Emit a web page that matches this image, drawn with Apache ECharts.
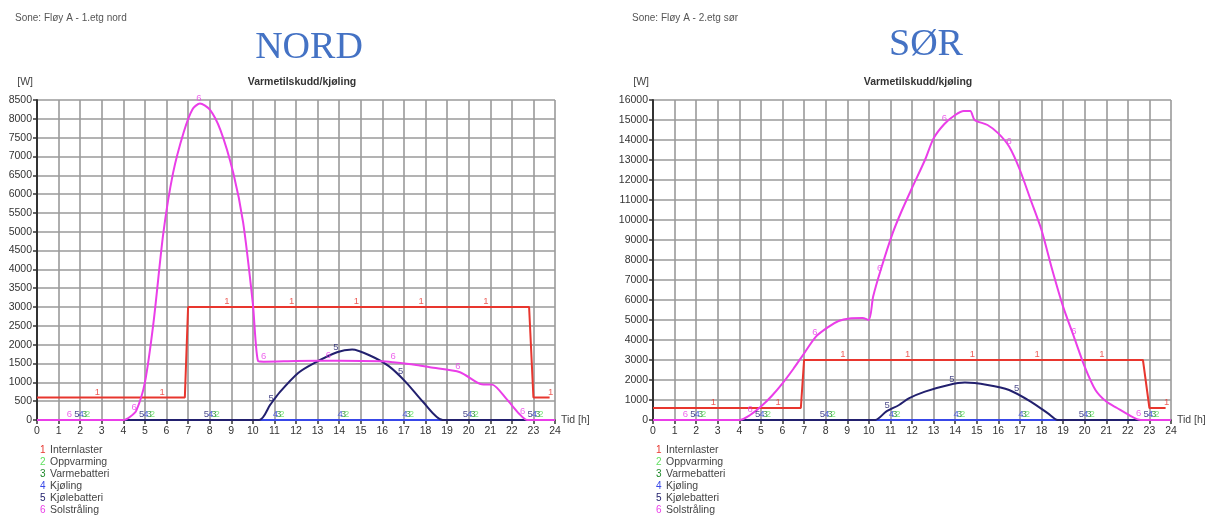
<!DOCTYPE html>
<html>
<head>
<meta charset="utf-8">
<script src="https://cdn.jsdelivr.net/npm/echarts@6/dist/echarts.min.js"></script>
<style>
html,body{margin:0;padding:0;background:#fff;}
#c{width:1210px;height:517px;}
</style>
</head>
<body>
<div id="c"></div>
<script>
// ---------- DATA ----------
const seriesNames = ['Internlaster', 'Oppvarming', 'Varmebatteri', 'Kjøling', 'Kjølebatteri', 'Solstråling'];

// NORD (Fløy A - 1.etg nord) : [hour, W]
const nordInternlaster = [[0,600],[6.85,600],[7.0,3000],[22.8,3000],[23.0,600],[23.75,600]];
const nordOppvarming   = [[0,0],[24,0]];
const nordVarmebatteri = [[0,0],[24,0]];
const nordKjoling      = [[0,0],[24,0]];
const nordKjolebatteri = [[0,0],[10.3,0],[10.8,400],[11.25,740],[12.1,1250],[12.8,1500],[13.9,1800],[14.6,1870],[15.4,1720],[16.3,1430],[17.1,1000],[17.9,470],[18.8,0],[24,0]];
const nordSolstraling  = [[0,0],[4.0,0],[4.3,80],[4.6,250],[5.0,1000],[5.4,2600],[5.85,4950],[6.3,6550],[6.8,7650],[7.2,8250],[7.55,8410],[8.0,8250],[8.5,7700],[9.1,6550],[9.55,5250],[10.0,3100],[10.25,1560],[10.5,1550],[12,1565],[14,1575],[16,1560],[16.5,1535],[17.5,1470],[18.2,1400],[19.6,1270],[20.6,950],[21.1,940],[21.75,560],[22.35,160],[22.7,0],[24,0]];

// SØR (Fløy A - 2.etg sør)
const sorInternlaster = [[0,600],[6.85,600],[7.0,3000],[22.7,3000],[23.0,600],[23.75,600]];
const sorOppvarming   = [[0,0],[24,0]];
const sorVarmebatteri = [[0,0],[24,0]];
const sorKjoling      = [[0,0],[24,0]];
const sorKjolebatteri = [[0,0],[10.3,0],[10.8,420],[11.4,750],[11.85,1080],[12.6,1420],[13.7,1750],[14.45,1870],[15.5,1750],[16.5,1500],[17.5,920],[18.3,330],[18.75,0],[24,0]];
const sorSolstraling  = [[0,0],[4.0,0],[4.5,250],[5.0,670],[5.5,1200],[6.0,1830],[6.5,2550],[6.9,3170],[7.55,4170],[8.15,4670],[8.6,4950],[9.1,5080],[9.7,5100],[10.0,5000],[10.2,6170],[10.55,7500],[11.1,9330],[11.5,10400],[12.0,11600],[12.6,13000],[13.0,14080],[13.5,14800],[14.0,15250],[14.4,15450],[14.7,15450],[14.9,15000],[15.5,14750],[16.0,14330],[16.5,13670],[17.0,12500],[17.5,11000],[18.0,9500],[18.5,7500],[19.0,5670],[19.5,4170],[20.0,2670],[20.5,1500],[21.0,920],[21.5,600],[22.05,250],[22.6,0],[24,0]];

const nordYMax = 8500, nordYStep = 500;
const sorYMax = 16000, sorYStep = 1000;

// ---------- STYLE ----------
const colors = ['#e8362e', '#5fe05f', '#1f8a2a', '#3848e8', '#22206e', '#ea3ee8'];
const labelStart = [2.8, 2.35, 2.2, 2.05, 1.85, 1.5]; // first curve-number marker per series
const font = 'Liberation Sans, Arial, sans-serif';

function interp(data, x) {
  for (let i = 0; i < data.length - 1; i++) {
    const a = data[i], b = data[i + 1];
    if (x >= a[0] && x <= b[0]) {
      if (b[0] === a[0]) return b[1];
      return a[1] + (b[1] - a[1]) * (x - a[0]) / (b[0] - a[0]);
    }
  }
  return data[data.length - 1][1];
}

function buildSeries(gi, sets) {
  const out = [];
  const order = [1, 2, 3, 4, 0, 5];
  order.forEach(i => {
    out.push({
      name: seriesNames[i], type: 'line', xAxisIndex: gi, yAxisIndex: gi,
      data: sets[i], showSymbol: false, symbol: 'none',
      smooth: (i === 4 || i === 5) ? 0.25 : false,
      lineStyle: { color: colors[i], width: 2 },
      itemStyle: { color: colors[i] },
      z: 2 + order.indexOf(i), silent: true
    });
  });
  sets.forEach((d, i) => {
    const pts = [];
    for (let x = labelStart[i]; x <= 24; x += 3) pts.push([x, interp(d, x)]);
    out.push({
      name: 'lbl' + gi + '_' + i, type: 'scatter', xAxisIndex: gi, yAxisIndex: gi,
      data: pts, symbolSize: 1, itemStyle: { color: 'rgba(0,0,0,0)' }, silent: true, z: 20,
      label: { show: true, formatter: String(i + 1), position: 'top', distance: 0,
               color: colors[i], fontSize: 9.5, fontFamily: font }
    });
  });
  return out;
}

function xAxisCfg(gi) {
  return {
    type: 'value', gridIndex: gi, min: 0, max: 24, interval: 1,
    name: 'Tid [h]', nameLocation: 'end', nameGap: 6,
    nameTextStyle: { fontSize: 10.5, color: '#444', fontFamily: font, align: 'left', verticalAlign: 'middle' },
    axisLine: { show: true, lineStyle: { color: '#333', width: 1.5 } },
    axisTick: { show: true, length: 4, lineStyle: { color: '#333', width: 1.5 } },
    axisLabel: { fontSize: 10.5, color: '#333', fontFamily: font, margin: 6 },
    splitLine: { show: true, lineStyle: { color: '#9a9a9a', width: 1.6 } }
  };
}
function yAxisCfg(gi, max, step) {
  return {
    type: 'value', gridIndex: gi, min: 0, max: max, interval: step,
    name: '[W]', nameLocation: 'end', nameGap: 12,
    nameTextStyle: { fontSize: 10.5, color: '#444', fontFamily: font, align: 'right', padding: [0, 4, 0, 0] },
    axisLine: { show: true, lineStyle: { color: '#333', width: 2 } },
    axisTick: { show: true, length: 4, lineStyle: { color: '#333', width: 1.5 } },
    axisLabel: { fontSize: 10.5, color: '#333', fontFamily: font, margin: 5, formatter: v => String(v) },
    splitLine: { show: true, lineStyle: { color: '#9a9a9a', width: 1.6 } }
  };
}

const rich = {};
colors.forEach((c, i) => { rich['n' + i] = { color: c, fontSize: 10, fontFamily: font, width: 10 }; });
function legendCfg(left) {
  return {
    orient: 'vertical', left: left, top: 444, height: 100, itemGap: 0, icon: 'none',
    itemWidth: 0, itemHeight: 12, selectedMode: false, padding: 0,
    data: seriesNames,
    formatter: name => '{n' + seriesNames.indexOf(name) + '|' + (seriesNames.indexOf(name) + 1) + '}' + name,
    textStyle: { fontSize: 10.5, color: '#444', fontFamily: font, lineHeight: 12, rich: rich }
  };
}

const option = {
  backgroundColor: '#ffffff',
  animation: false,
  title: [
    { text: 'Sone: Fløy A - 1.etg nord', left: 10, top: 8, textStyle: { fontSize: 10, color: '#555', fontWeight: 'normal', fontFamily: font } },
    { text: 'NORD', left: 304, top: 24, textAlign: 'center', textStyle: { fontSize: 38, color: '#4472C4', fontWeight: 'normal', fontFamily: 'Liberation Serif, Times New Roman, serif' } },
    { text: 'Varmetilskudd/kjøling', left: 297, top: 72, textAlign: 'center', textStyle: { fontSize: 10.5, color: '#333', fontWeight: 'bold', fontFamily: font } },
    { text: 'Sone: Fløy A - 2.etg sør', left: 627, top: 8, textStyle: { fontSize: 10, color: '#555', fontWeight: 'normal', fontFamily: font } },
    { text: 'SØR', left: 921, top: 21, textAlign: 'center', textStyle: { fontSize: 38, color: '#4472C4', fontWeight: 'normal', fontFamily: 'Liberation Serif, Times New Roman, serif' } },
    { text: 'Varmetilskudd/kjøling', left: 913, top: 72, textAlign: 'center', textStyle: { fontSize: 10.5, color: '#333', fontWeight: 'bold', fontFamily: font } }
  ],
  legend: [legendCfg(35), legendCfg(651)],
  grid: [
    { left: 37, top: 100, width: 518, height: 320 },
    { left: 653, top: 100, width: 518, height: 320 }
  ],
  xAxis: [xAxisCfg(0), xAxisCfg(1)],
  yAxis: [yAxisCfg(0, nordYMax, nordYStep), yAxisCfg(1, sorYMax, sorYStep)],
  series: [
    ...buildSeries(0, [nordInternlaster, nordOppvarming, nordVarmebatteri, nordKjoling, nordKjolebatteri, nordSolstraling]),
    ...buildSeries(1, [sorInternlaster, sorOppvarming, sorVarmebatteri, sorKjoling, sorKjolebatteri, sorSolstraling])
  ]
};

const chart = echarts.init(document.getElementById('c'), null, { renderer: 'canvas' });
chart.setOption(option);
</script>
</body>
</html>
